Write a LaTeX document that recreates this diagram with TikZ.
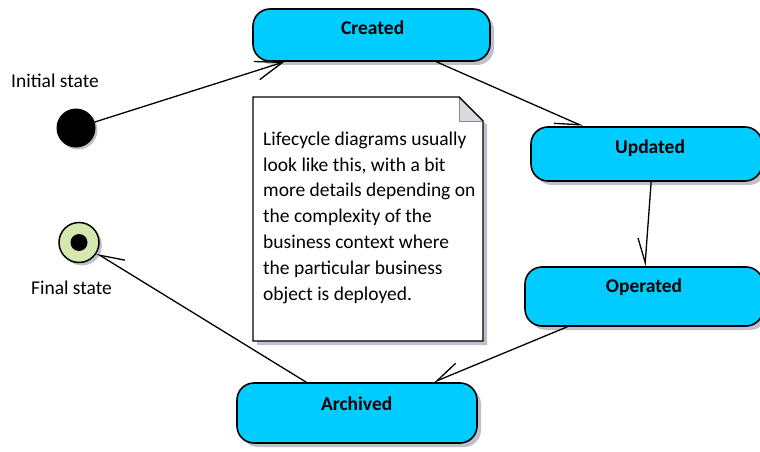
\documentclass[tikz,border=0pt]{standalone}
\usepackage{fontspec}
\setmainfont{Carlito}
\usetikzlibrary{arrows.meta,shadows,calc}
\definecolor{statefill}{RGB}{0,204,255}
\definecolor{shadowc}{RGB}{192,192,204}
\definecolor{finalfill}{RGB}{212,232,176}
\definecolor{foldc}{RGB}{218,218,222}
\begin{document}
\begin{tikzpicture}[x=1pt,y=-1pt,
  shad/.style={drop shadow={shadow xshift=4pt,shadow yshift=-4pt,fill=shadowc,opacity=1}},
  statebox/.style={draw=black, line width=1.6pt, fill=statefill, rounded corners=17pt, inner sep=0pt, shad},
  lbl/.style={font=\fontsize{19.5}{23}\selectfont\bfseries, anchor=base, inner sep=0pt},
  txt/.style={font=\fontsize{19.5}{23}\selectfont, anchor=base, inner sep=0pt},
  conn/.style={line width=1.3pt, -{Straight Barb[length=24pt,width=18pt,harpoon,swap]}},
  connfull/.style={line width=1.3pt, -{Straight Barb[length=27pt,width=19pt]}},
]
\useasboundingbox (0,0) rectangle (760,452);

% note
\draw[line width=1.4pt, fill=white, shad] (253,97) -- (459,97) -- (483,121) -- (483,341) -- (253,341) -- cycle;
\fill[foldc] (459,97) -- (459,121) -- (483,121) -- cycle;
\draw[line width=0.6pt, draw=black!45] (459,97) -- (459,121) -- (483,121);
\draw[line width=1.4pt] (459,97) -- (483,121);
\node[font=\fontsize{19.5}{25.8}\selectfont, align=left, anchor=north west, inner sep=0pt] (notetext) at (263,131.5)
  {Lifecycle diagrams usually\\look like this, with a bit\\more details depending on\\the complexity of the\\business context where\\the particular business\\object is deployed.};

% states
\node[statebox, minimum width=237pt, minimum height=52pt] (created) at (371.5,35) {};
\node[statebox, minimum width=231pt, minimum height=54pt] (updated) at (646.5,154) {};
\node[statebox, minimum width=238pt, minimum height=59pt] (operated) at (644,296.5) {};
\node[statebox, minimum width=240pt, minimum height=60pt] (archived) at (357,413) {};

\node[lbl] (createdl) at (372.7,35) {Created};
\node[lbl] (updatedl) at (650,153) {Updated};
\node[lbl] (operatedl) at (644,292.5) {Operated};
\node[lbl] (archivedl) at (356.7,410) {Archived};

% initial / final
\node[circle, fill=black, minimum size=39pt, inner sep=0pt, drop shadow={shadow xshift=2pt,shadow yshift=-2pt,fill=shadowc,opacity=1}] (init) at (76,128) {};
\node[circle, draw=black, line width=1.5pt, fill=finalfill, minimum size=40pt, inner sep=0pt, drop shadow={shadow xshift=3pt,shadow yshift=-3pt,fill=shadowc,opacity=1}] (final) at (79,242.5) {};
\node[circle, fill=black, minimum size=17pt, inner sep=0pt] (finaldot) at (final.center) {};

\node[txt] (initl) at (55,87) {Initial state};
\node[txt] (finall) at (71.5,294) {Final state};

% transitions
\draw[connfull] (init) -- ($(created.south west)!0.135!(created.south east)$);
\draw[conn] ($(created.south west)!0.772!(created.south east)$) -- ($(updated.north west)!0.226!(updated.north east)$);
\draw[conn] ($(updated.south west)!0.52!(updated.south east)$) -- ($(operated.north west)!0.504!(operated.north east)$);
\draw[conn] ($(operated.south west)!0.18!(operated.south east)$) -- ($(archived.north west)!0.817!(archived.north east)$);
\draw[conn] ($(archived.north west)!0.29!(archived.north east)$) -- (final);
\end{tikzpicture}
\end{document}
